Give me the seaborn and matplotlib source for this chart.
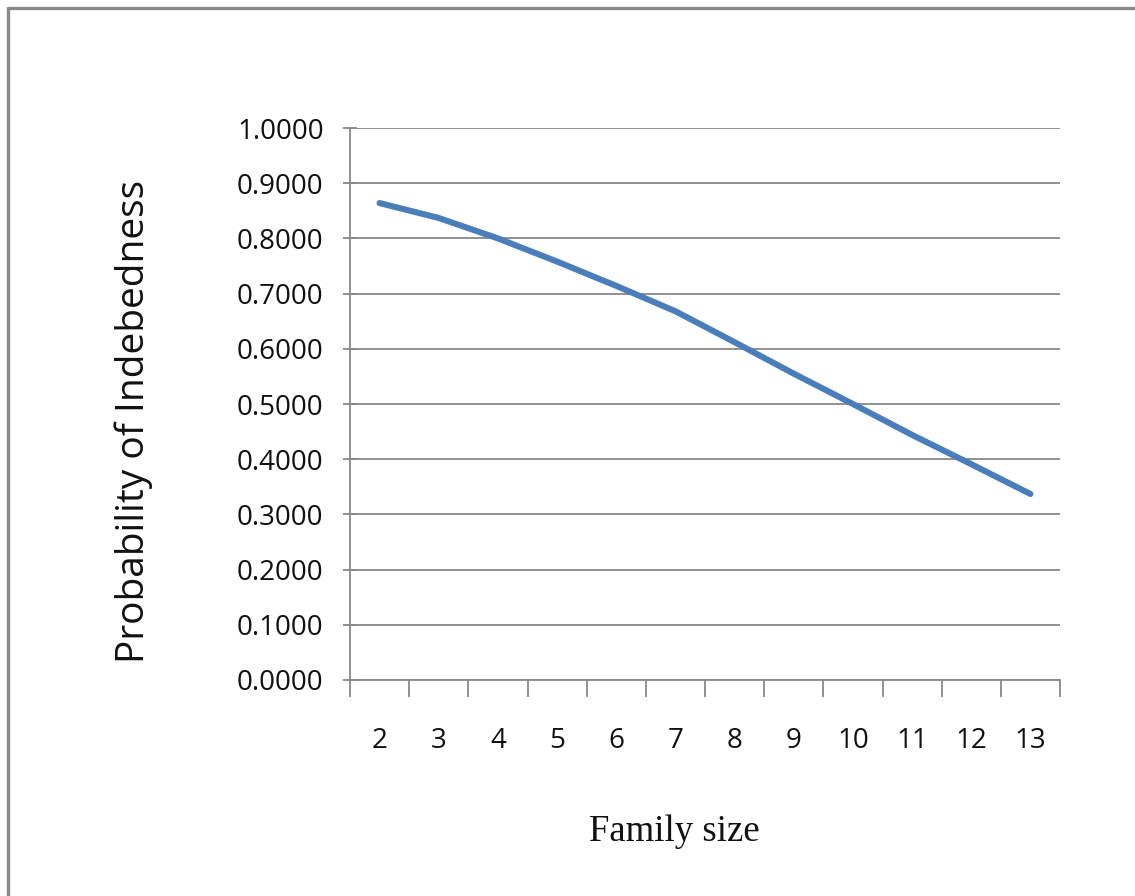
import matplotlib
matplotlib.use("Agg")
import matplotlib.pyplot as plt
from matplotlib.lines import Line2D
import numpy as np
import pandas as pd
import seaborn as sns

# Probability of indebtedness by family size
family_size = [2, 3, 4, 5, 6, 7, 8, 9, 10, 11, 12, 13]
probability = [0.864, 0.837, 0.800, 0.758, 0.714, 0.668, 0.612, 0.555, 0.500, 0.444, 0.391, 0.337]
y_ticks = [0.0, 0.1, 0.2, 0.3, 0.4, 0.5, 0.6, 0.7, 0.8, 0.9, 1.0]

df = pd.DataFrame({"Family size": family_size, "Probability": probability})

sns.set_theme(style="white")
plt.rcParams["font.family"] = ["Open Sans", "DejaVu Sans"]

W, H = 1135, 896
fig = plt.figure(figsize=(W / 100, H / 100), dpi=100)
ax = fig.add_axes([350 / W, 1 - 680 / H, 710 / W, 552 / H])

sns.lineplot(data=df, x="Family size", y="Probability", ax=ax,
             color="#4A7EBB", linewidth=4.4, solid_capstyle="round")

grid_c = "#888888"
ax.set_ylim(0, 1)
ax.set_xlim(family_size[0] - 0.5, family_size[-1] + 0.5)
ax.set_yticks(y_ticks)
ax.set_yticklabels([f"{v:.4f}" for v in y_ticks], fontsize=20, color="#111111")
ax.yaxis.grid(True, color=grid_c, linewidth=1.3)
ax.set_axisbelow(True)

# category labels centred, tick marks between categories
ax.set_xticks(family_size)
ax.set_xticklabels([str(v) for v in family_size], fontsize=20, color="#111111")
ax.set_xticks(np.arange(family_size[0] - 0.5, family_size[-1] + 1, 1.0), minor=True)
ax.tick_params(which="both", bottom=True, left=True)
ax.tick_params(axis="x", which="major", length=0, pad=34)
ax.tick_params(axis="x", which="minor", length=12, width=1.3, color=grid_c, direction="out")
ax.tick_params(axis="y", which="major", length=10, width=1.3, color=grid_c,
               direction="inout", pad=14)

for s in ["top", "right"]:
    ax.spines[s].set_visible(False)
for s in ["left", "bottom"]:
    ax.spines[s].set_color(grid_c)
    ax.spines[s].set_linewidth(1.3)

ax.set_xlabel("")
ax.set_ylabel("")
fig.text(134 / W, 1 - 421 / H, "Probability of Indebedness", rotation=90,
         ha="center", va="center", fontsize=28, color="#111111")
fig.text(674 / W, 1 - 832 / H, "Family size", ha="center", va="center",
         fontsize=26.5, family=["Liberation Serif", "DejaVu Serif"], color="#111111")

# outer frame (top and left edges)
fig.add_artist(Line2D([8 / W, 1], [1 - 8 / H, 1 - 8 / H], transform=fig.transFigure,
                      color="#8a8a8a", linewidth=2.4))
fig.add_artist(Line2D([8 / W, 8 / W], [0, 1 - 8 / H], transform=fig.transFigure,
                      color="#8a8a8a", linewidth=2.4))

fig.savefig("out.png", dpi=100)
